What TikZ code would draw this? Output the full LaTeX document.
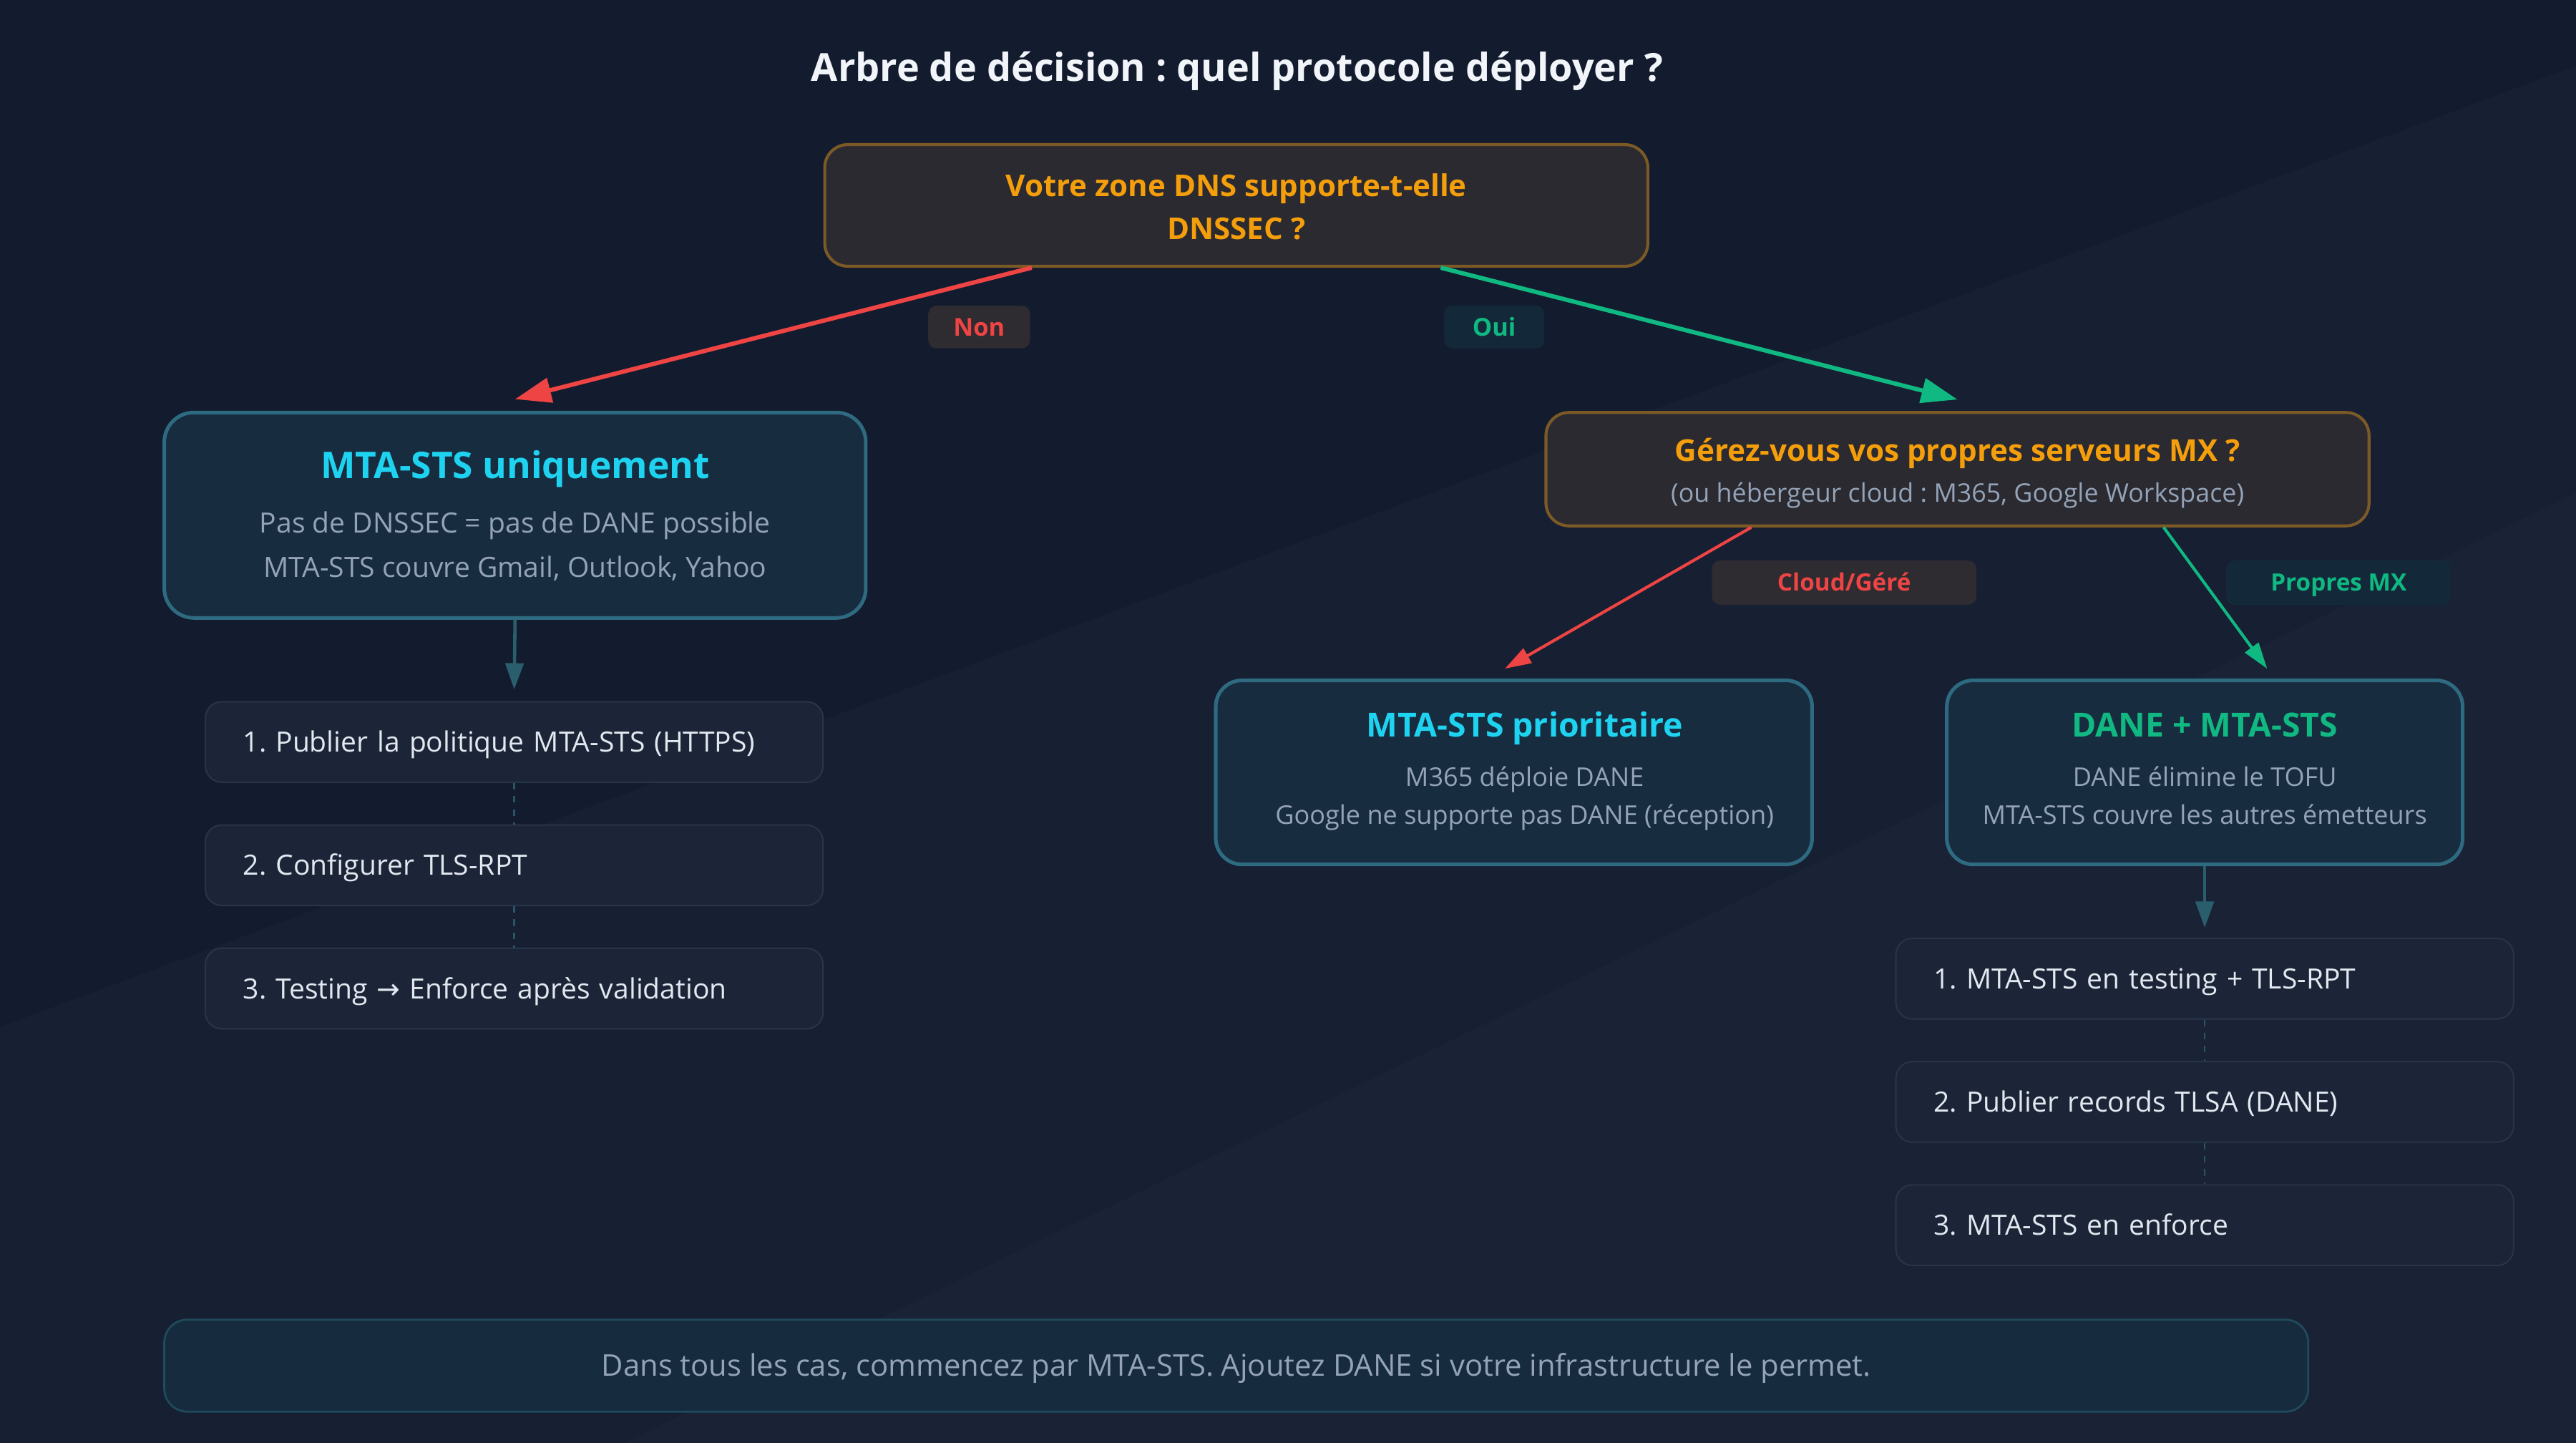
\documentclass[tikz,border=0pt]{standalone}
\usepackage{fontspec}
\setmainfont{Open Sans}
\newfontfamily\symfont{DejaVu Sans}
\usetikzlibrary{arrows.meta}
\frenchspacing
\definecolor{bgA}{HTML}{131B2E}
\definecolor{titlec}{HTML}{F1F5F9}
\definecolor{orangec}{HTML}{F59E0B}
\definecolor{qfill}{HTML}{2A2A30}
\definecolor{qborder}{HTML}{7C5A26}
\definecolor{redc}{HTML}{EF4444}
\definecolor{greenc}{HTML}{10B981}
\definecolor{cyanc}{HTML}{1ED3F0}
\definecolor{subgrey}{HTML}{94A3B8}
\definecolor{bfill}{HTML}{182C40}
\definecolor{bborder}{HTML}{2E6A80}
\definecolor{sfill}{HTML}{1C2537}
\definecolor{sborder}{HTML}{27344A}
\definecolor{stext}{HTML}{E2E8F0}
\definecolor{downc}{HTML}{2B5E6C}
\definecolor{dashc}{HTML}{2B5566}
\definecolor{nonfill}{HTML}{2E2B31}
\definecolor{ouifill}{HTML}{13293A}
\definecolor{banfill}{HTML}{172B3E}
\definecolor{banborder}{HTML}{1F4B5B}
\tikzset{
  fs/.style={font=\fontsize{#1}{#1}\selectfont, text height=0.72*#1pt, text depth=0pt},
  bfs/.style={font=\bfseries\fontsize{#1}{#1}\selectfont, text height=0.72*#1pt, text depth=0pt},
  txt/.style={inner sep=0pt},
  qbox/.style={draw=qborder, fill=qfill, line width=1.8pt, rounded corners=14pt},
  rbox/.style={draw=bborder, fill=bfill, line width=2.2pt, rounded corners=18pt},
  stepbox/.style={draw=sborder, fill=sfill, line width=0.9pt, rounded corners=10pt,
    minimum width=376pt, minimum height=49pt, text width=330pt, inner xsep=23pt, inner ysep=0pt,
    align=left, text=stext, fs=17},
  qtxt/.style={txt, text=orangec, bfs=18.3},
  ttl/.style={txt, bfs=22.4},
  sub/.style={txt, text=subgrey, fs=17},
  lab/.style={rounded corners=5pt, inner sep=0pt, bfs=15},
  bigarrow/.style={line width=2.6pt, -{Triangle[length=22pt,width=15pt]}},
  midarrow/.style={line width=1.8pt, -{Triangle[length=16pt,width=10pt]}},
  downarrow/.style={draw=downc, line width=2pt, -{Triangle[length=16pt,width=11pt]}},
  dashline/.style={draw=dashc, line width=1pt, dash pattern=on 4pt off 4pt},
}
\begin{document}
\begin{tikzpicture}[x=1pt,y=-1pt]
\useasboundingbox (0,0) rectangle (1568,878);
% background
\fill[bgA] (0,0) rectangle (1568,878);
\fill[white, opacity=0.018] (0,625) -- (1568,40) -- (1568,878) -- (0,878) -- cycle;
\fill[white, opacity=0.015] (380,878) -- (1568,300) -- (1568,878) -- cycle;

% title
\node[txt, text=titlec, bfs=23.5] (title) at (753,41) {Arbre de décision : quel protocole déployer ?};

% root question
\node[qbox, minimum width=501pt, minimum height=74pt] (root) at (752.5,125) {};
\node[qtxt] (rootA) at (752.5,113) {Votre zone DNS supporte-t-elle};
\node[qtxt] (rootB) at (752.5,139) {DNSSEC ?};

% left result
\node[rbox, minimum width=427pt, minimum height=125pt] (lb) at (313.5,313.5) {};
\node[ttl, text=cyanc] (lbT) at (313.5,283) {MTA-STS uniquement};
\node[sub] (lbA) at (313.5,318) {Pas de DNSSEC = pas de DANE possible};
\node[sub] (lbB) at (313.5,345) {MTA-STS couvre Gmail, Outlook, Yahoo};

% left steps
\node[stepbox] (ls1) at (313,451.5) {1. Publier la politique MTA-STS (HTTPS)};
\node[stepbox] (ls2) at (313,526.5) {2. Configurer TLS-RPT};
\node[stepbox] (ls3) at (313,601.5) {3. Testing {\symfont →} Enforce après validation};

% right question
\node[qbox, minimum width=501pt, minimum height=69pt] (rq) at (1191.5,285.5) {};
\node[qtxt, bfs=18.4] (rqA) at (1191.5,274) {Gérez-vous vos propres serveurs MX ?};
\node[sub, fs=15.6] (rqB) at (1191.5,300) {(ou hébergeur cloud : M365, Google Workspace)};

% middle result
\node[rbox, rounded corners=16pt, minimum width=363pt, minimum height=112pt] (mb) at (921.5,470) {};
\node[ttl, text=cyanc, bfs=20.2] (mbT) at (928,441) {MTA-STS prioritaire};
\node[sub, fs=15.7] (mbA) at (928,473) {M365 déploie DANE};
\node[sub, fs=15.7] (mbB) at (928,496) {Google ne supporte pas DANE (réception)};

% right result
\node[rbox, rounded corners=16pt, minimum width=314pt, minimum height=112pt] (rb) at (1342,470) {};
\node[ttl, text=greenc, bfs=20.2] (rbT) at (1342,441) {DANE + MTA-STS};
\node[sub, fs=15.7] (rbA) at (1342,473) {DANE élimine le TOFU};
\node[sub, fs=15.7] (rbB) at (1342,496) {MTA-STS couvre les autres émetteurs};

% right steps
\node[stepbox] (rs1) at (1342,595.5) {1. MTA-STS en testing + TLS-RPT};
\node[stepbox] (rs2) at (1342,670.5) {2. Publier records TLSA (DANE)};
\node[stepbox] (rs3) at (1342,745.5) {3. MTA-STS en enforce};

% banner
\node[draw=banborder, fill=banfill, line width=1.2pt, rounded corners=14pt,
  minimum width=1305pt, minimum height=56pt] (ban) at (752.5,831) {};
\node[sub, fs=18.2] (banT) at (752.5,831) {Dans tous les cas, commencez par MTA-STS. Ajoutez DANE si votre infrastructure le permet.};

% connectors
\draw[bigarrow, draw=redc, fill=redc] ([xshift=-124.5pt]root.south) -- ([yshift=7pt]lb.north);
\draw[bigarrow, draw=greenc, fill=greenc] ([xshift=124.5pt]root.south) -- ([yshift=7pt]rq.north);
\draw[midarrow, draw=redc, fill=redc] ([xshift=-125.5pt]rq.south) -- ([xshift=-5.5pt,yshift=6pt]mb.north);
\draw[midarrow, draw=greenc, fill=greenc] ([xshift=125.5pt]rq.south) -- ([xshift=38pt,yshift=6pt]rb.north);
\draw[downarrow, fill=downc] (lb.south) -- ([yshift=7pt]ls1.north);
\draw[downarrow, fill=downc] (rb.south) -- ([yshift=6pt]rs1.north);
\draw[dashline] (ls1.south) -- (ls2.north);
\draw[dashline] (ls2.south) -- (ls3.north);
\draw[dashline] (rs1.south) -- (rs2.north);
\draw[dashline] (rs2.south) -- (rs3.north);

% labels
\node[lab, fill=nonfill, text=redc, minimum width=62pt, minimum height=26pt] (lNon) at (596,199) {Non};
\node[lab, fill=ouifill, text=greenc, minimum width=61pt, minimum height=26pt] (lOui) at (909.5,199) {Oui};
\node[lab, fill=nonfill, text=redc, minimum width=161pt, minimum height=27pt, bfs=14.5] (lCloud) at (1122.5,354.5) {Cloud/Géré};
\node[lab, fill=ouifill, text=greenc, minimum width=137pt, minimum height=27pt, bfs=14.5] (lProp) at (1423.5,354.5) {Propres MX};
\end{tikzpicture}
\end{document}
